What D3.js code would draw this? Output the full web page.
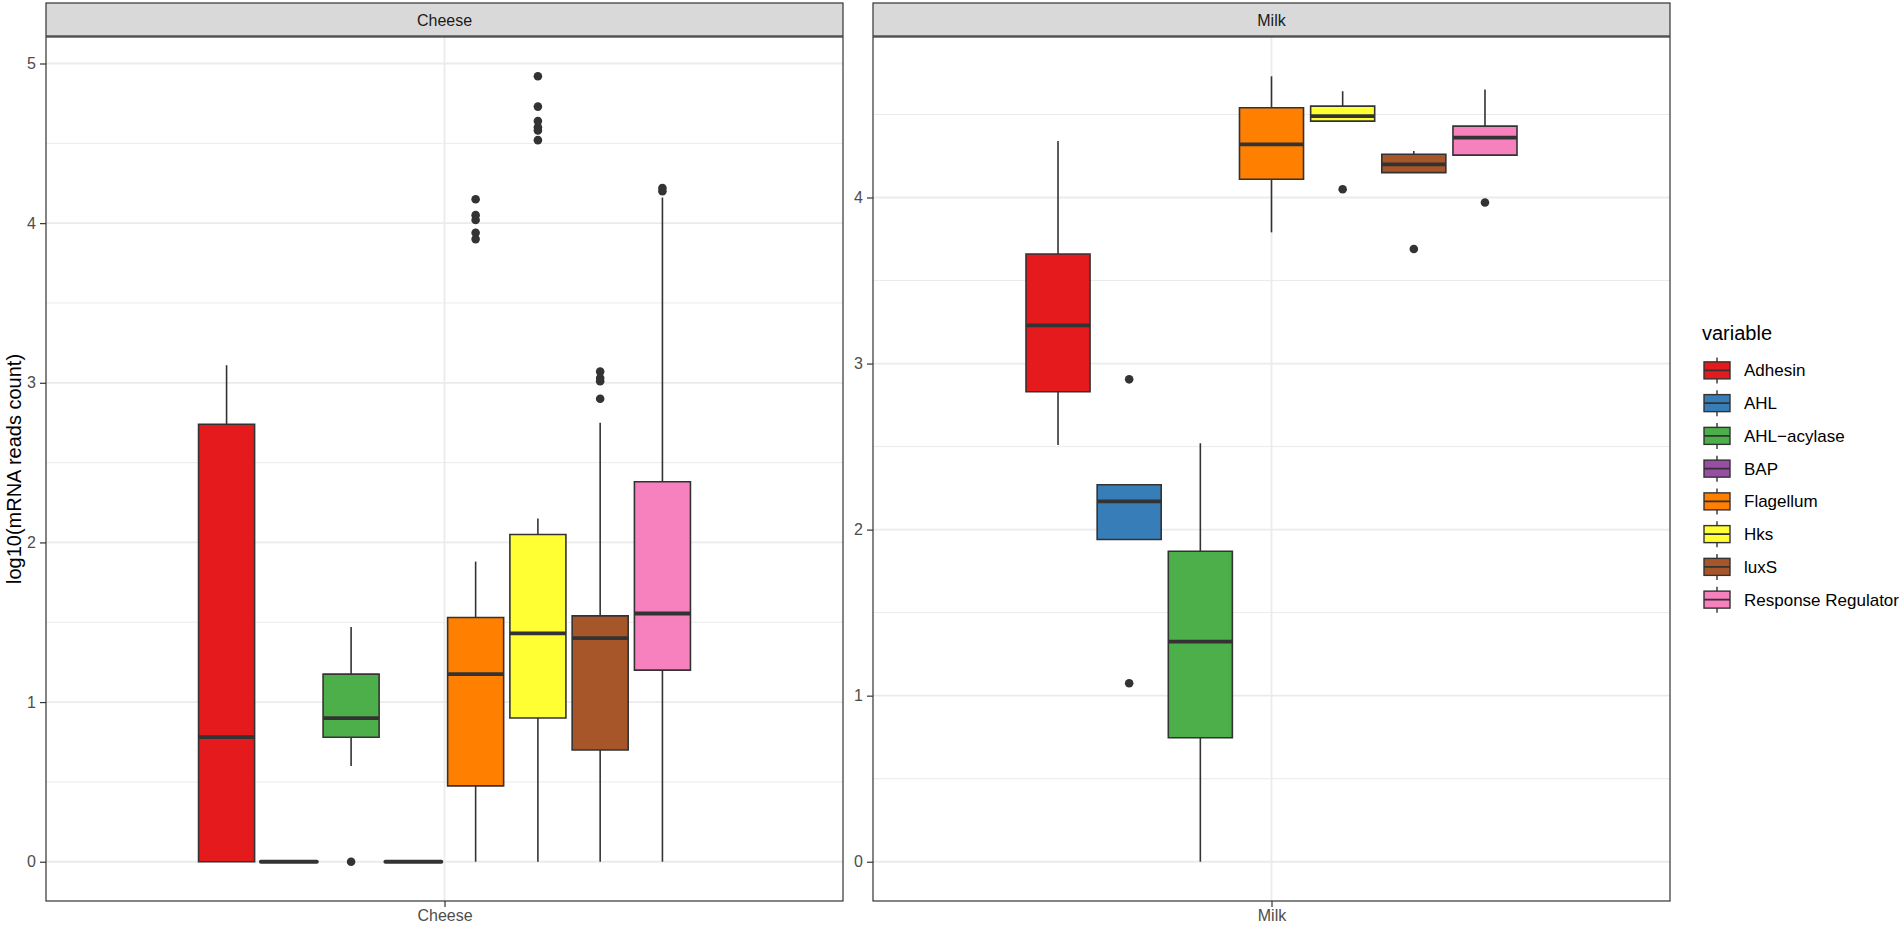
<!DOCTYPE html>
<html>
<head>
<meta charset="utf-8">
<script src="https://cdn.jsdelivr.net/npm/d3@7"></script>
<style>
  body { margin: 0; background: #fff; }
  text { font-family: "Liberation Sans", Arial, sans-serif; }
</style>
</head>
<body>
<div id="chart"></div>
<script>
const width = 1902,
    height = 926

// gene groups and Set1 fill colours
const groups = ["Adhesin", "AHL", "AHL-acylase", "BAP", "Flagellum", "Hks", "luxS", "Response Regulator"]
const fills = ["#E41A1C", "#377EB8", "#4DAF4A", "#984EA3", "#FF7F00", "#FFFF33", "#A65628", "#F781BF"]

// box stats per group: [lower whisker, Q1, median, Q3, upper whisker]
const cheeseBoxes = [
    [0, 0, 0.78, 2.74, 3.11],
    [0, 0, 0, 0, 0],
    [0.60, 0.78, 0.90, 1.175, 1.47],
    [0, 0, 0, 0, 0],
    [0, 0.475, 1.175, 1.53, 1.88],
    [0, 0.90, 1.43, 2.05, 2.15],
    [0, 0.70, 1.40, 1.54, 2.75],
    [0, 1.20, 1.555, 2.38, 4.16]
]
const cheeseOutliers = [
    [],
    [],
    [0],
    [],
    [4.15, 4.05, 4.02, 3.94, 3.90],
    [4.92, 4.73, 4.64, 4.60, 4.58, 4.52],
    [3.07, 3.03, 3.01, 2.90],
    [4.22, 4.20]
]
const milkBoxes = [
    [2.51, 2.83, 3.23, 3.66, 4.34],
    [1.94, 1.94, 2.17, 2.27, 2.27],
    [0, 0.747, 1.325, 1.87, 2.52],
    null,
    [3.79, 4.11, 4.32, 4.54, 4.73],
    [4.46, 4.46, 4.49, 4.55, 4.64],
    [4.15, 4.15, 4.20, 4.26, 4.28],
    [4.255, 4.255, 4.36, 4.43, 4.65]
]
const milkOutliers = [
    [],
    [2.905, 1.075],
    [],
    [],
    [],
    [4.05],
    [3.69],
    [3.97]
]
const cheeseTicks = [0, 1, 2, 3, 4, 5]
const milkTicks = [0, 1, 2, 3, 4]

const panelTop = 37,
    panelBottom = 901,
    stripTop = 3

const panels = [
    { label: "Cheese", x0: 46, x1: 843, boxes: cheeseBoxes, outliers: cheeseOutliers, ticks: cheeseTicks },
    { label: "Milk", x0: 873, x1: 1670, boxes: milkBoxes, outliers: milkOutliers, ticks: milkTicks }
]

const svg = d3.select("#chart")
    .append("svg")
        .attr("width", width)
        .attr("height", height)

panels.forEach(p => {
    // free y scale with ggplot's 5% expansion
    const vals = d3.merge([d3.merge(p.boxes.filter(b => b)), d3.merge(p.outliers)])
    const lo = d3.min(vals), hi = d3.max(vals), r = hi - lo
    const y = d3.scaleLinear()
        .domain([lo - 0.05 * r, hi + 0.05 * r])
        .range([panelBottom, panelTop])

    // one discrete x position, dodged boxes inside 0.75 of it
    const x = d3.scaleLinear().domain([0.4, 1.6]).range([p.x0, p.x1])
    const present = groups.filter((g, i) => p.boxes[i])
    const band = d3.scaleBand()
        .domain(present)
        .range([x(1 - 0.375), x(1 + 0.375)])
        .padding(0)
    const bw = band.bandwidth() * 0.9

    const g = svg.append("g")

    g.append("rect")
        .attr("x", p.x0).attr("y", panelTop)
        .attr("width", p.x1 - p.x0).attr("height", panelBottom - panelTop)
        .attr("fill", "#fff")

    // grid
    const majors = p.ticks
    const minors = majors.map(t => t + 0.5)
        .filter(t => t > y.domain()[0] && t < y.domain()[1])
    g.selectAll(".minor").data(minors).enter()
        .append("line")
            .attr("x1", p.x0).attr("x2", p.x1)
            .attr("y1", d => y(d)).attr("y2", d => y(d))
            .attr("stroke", "#EBEBEB")
            .attr("stroke-width", 1)
    g.selectAll(".major").data(majors).enter()
        .append("line")
            .attr("x1", p.x0).attr("x2", p.x1)
            .attr("y1", d => y(d)).attr("y2", d => y(d))
            .attr("stroke", "#EBEBEB")
            .attr("stroke-width", 1.8)
    g.append("line")
        .attr("x1", x(1)).attr("x2", x(1))
        .attr("y1", panelTop).attr("y2", panelBottom)
        .attr("stroke", "#EBEBEB")
        .attr("stroke-width", 1.8)

    // boxes
    groups.forEach((name, i) => {
        const b = p.boxes[i]
        if (!b) return
        const cx = band(name) + band.bandwidth() / 2
        const xl = cx - bw / 2, xr = cx + bw / 2
        g.append("line")
            .attr("x1", cx).attr("x2", cx)
            .attr("y1", y(b[3])).attr("y2", y(b[4]))
            .attr("stroke", "#333").attr("stroke-width", 1.6)
        g.append("line")
            .attr("x1", cx).attr("x2", cx)
            .attr("y1", y(b[1])).attr("y2", y(b[0]))
            .attr("stroke", "#333").attr("stroke-width", 1.6)
        g.append("path")
            .attr("d", `M${xl},${y(b[3])}H${xr}V${y(b[1])}H${xl}Z`)
            .attr("fill", fills[i])
            .attr("stroke", "#333").attr("stroke-width", 1.6)
        g.append("line")
            .attr("x1", xl).attr("x2", xr)
            .attr("y1", y(b[2])).attr("y2", y(b[2]))
            .attr("stroke", "#333").attr("stroke-width", 3.8)
            .attr("stroke-linecap", b[1] === b[3] ? "round" : "butt")

        g.selectAll(null).data(p.outliers[i]).enter()
            .append("circle")
                .attr("cx", cx)
                .attr("cy", d => y(d))
                .attr("r", 4.3)
                .attr("fill", "#333")
    })

    // panel border
    g.append("rect")
        .attr("x", p.x0).attr("y", panelTop)
        .attr("width", p.x1 - p.x0).attr("height", panelBottom - panelTop)
        .attr("fill", "none")
        .attr("stroke", "#333").attr("stroke-width", 1.2)

    // strip
    g.append("rect")
        .attr("x", p.x0).attr("y", stripTop)
        .attr("width", p.x1 - p.x0).attr("height", panelTop - stripTop - 1)
        .attr("fill", "#D9D9D9")
        .attr("stroke", "#333").attr("stroke-width", 1.2)
    g.append("text")
        .attr("x", (p.x0 + p.x1) / 2)
        .attr("y", (stripTop + panelTop) / 2)
        .attr("dy", "0.35em")
        .attr("text-anchor", "middle")
        .attr("font-size", 16)
        .attr("fill", "#1A1A1A")
        .text(p.label)

    // axes
    const yAxis = g.append("g")
        .attr("transform", `translate(${p.x0},0)`)
        .call(d3.axisLeft(y).tickValues(p.ticks).tickFormat(d3.format("d")).tickSize(6).tickPadding(4))
    yAxis.select(".domain").remove()
    yAxis.selectAll("line").attr("stroke", "#333").attr("stroke-width", 1.2)
    yAxis.selectAll("text").attr("font-size", 16).attr("fill", "#4D4D4D")
        .style("font-family", "'Liberation Sans', Arial, sans-serif")

    const xAxis = g.append("g")
        .attr("transform", `translate(0,${panelBottom})`)
        .call(d3.axisBottom(x).tickValues([1]).tickFormat(() => p.label).tickSize(6).tickPadding(3))
    xAxis.select(".domain").remove()
    xAxis.selectAll("line").attr("stroke", "#333").attr("stroke-width", 1.2)
    xAxis.selectAll("text").attr("font-size", 16).attr("fill", "#4D4D4D")
        .style("font-family", "'Liberation Sans', Arial, sans-serif")
})

// y axis title
svg.append("text")
    .attr("transform", `translate(14,${(panelTop + panelBottom) / 2}) rotate(-90)`)
    .attr("dy", "0.35em")
    .attr("text-anchor", "middle")
    .attr("font-size", 20)
    .attr("fill", "#000")
    .text("log10(mRNA reads count)")

// legend
const legend = svg.append("g")
legend.append("text")
    .attr("x", 1702).attr("y", 333)
    .attr("dy", "0.35em")
    .attr("font-size", 20)
    .text("variable")

const ly = d3.scaleBand().domain(groups).range([354, 616])
groups.forEach((name, i) => {
    const cy = ly(name) + ly.bandwidth() / 2
    const kx = 1717
    const key = legend.append("g")
    key.append("line")
        .attr("x1", kx).attr("x2", kx)
        .attr("y1", cy - 13).attr("y2", cy + 13)
        .attr("stroke", "#333").attr("stroke-width", 1.4)
    key.append("rect")
        .attr("x", kx - 13).attr("y", cy - 8.5)
        .attr("width", 26).attr("height", 17)
        .attr("fill", fills[i])
        .attr("stroke", "#333").attr("stroke-width", 1.4)
    key.append("line")
        .attr("x1", kx - 13).attr("x2", kx + 13)
        .attr("y1", cy).attr("y2", cy)
        .attr("stroke", "#333").attr("stroke-width", 1.8)
    legend.append("text")
        .attr("x", 1744).attr("y", cy)
        .attr("dy", "0.35em")
        .attr("font-size", 17)
        .text(name.replace("-", "\u2212"))
})
</script>
</body>
</html>
